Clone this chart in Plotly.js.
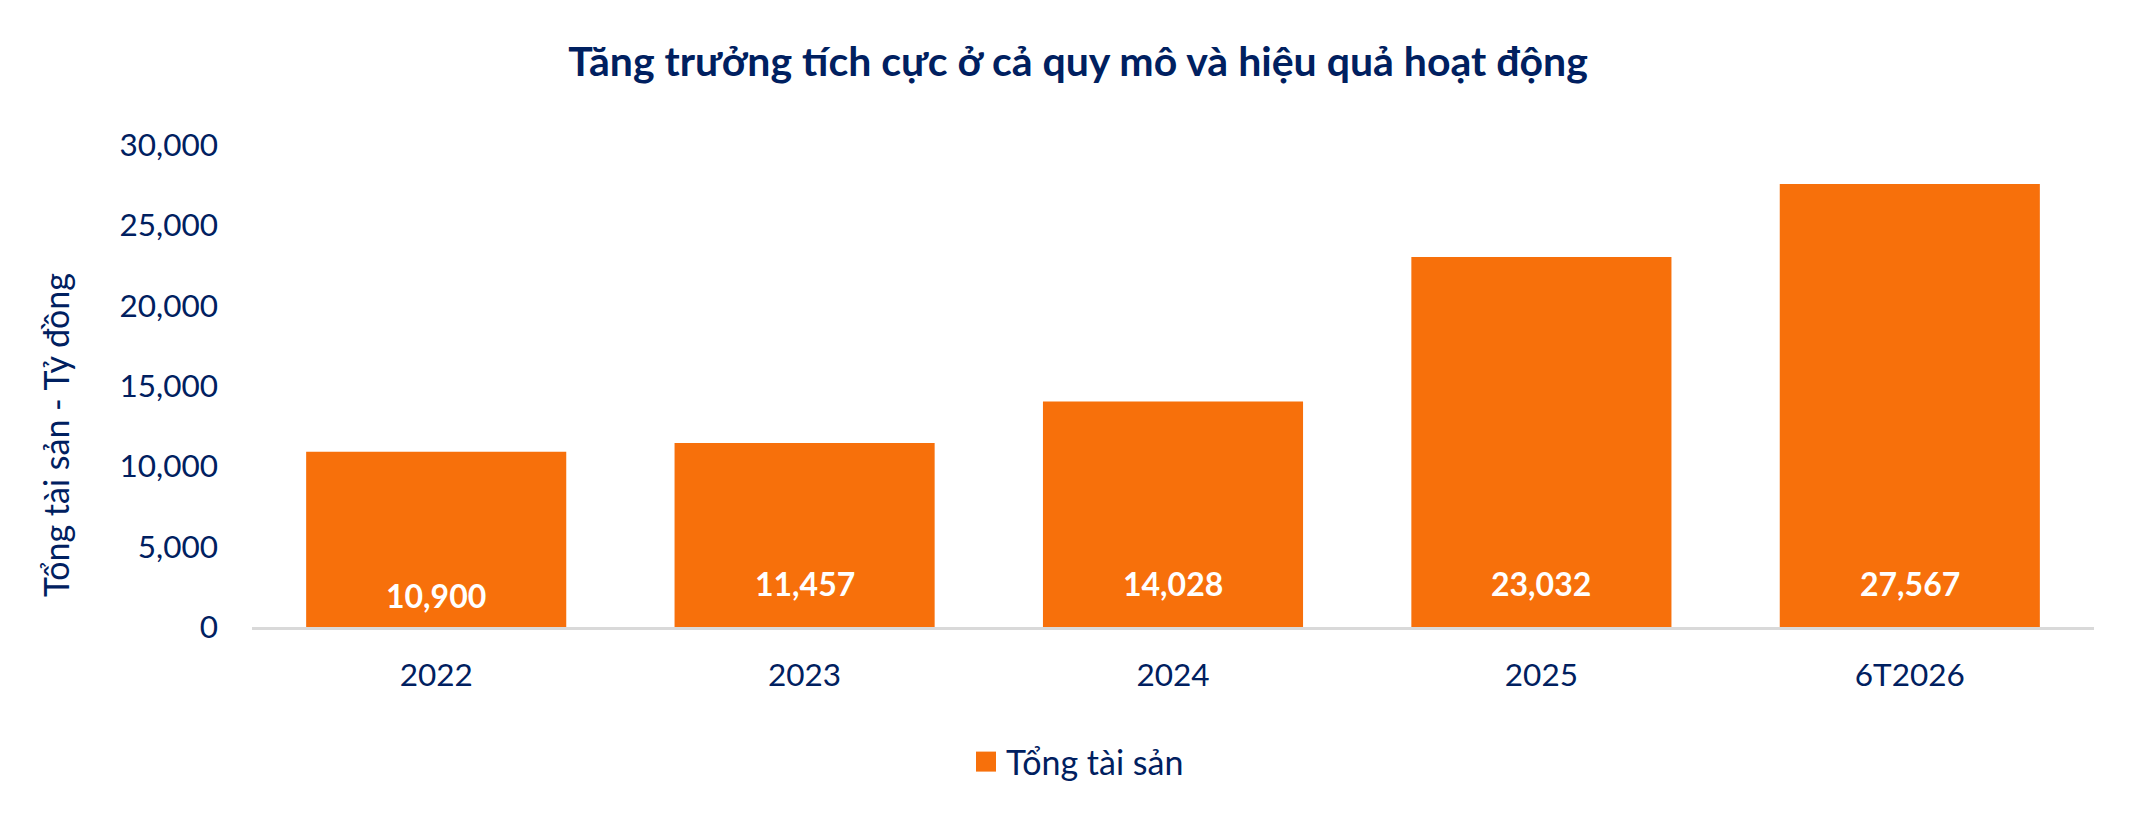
<!DOCTYPE html>
<html>
<head>
<meta charset="utf-8">
<script src="https://cdn.plot.ly/plotly-3.0.1.min.js"></script>
<style>
  html, body { margin: 0; padding: 0; background: #ffffff; }
  #chart { width: 2145px; height: 823px; }
</style>
</head>
<body>
<div id="chart"></div>
<script>
// ---- data ----
const categories = ['2022', '2023', '2024', '2025', '6T2026'];
const totalAssets = [10900, 11457, 14028, 23032, 27567];
const seriesName = 'Tổng tài sản';
const yTickValues = [0, 5000, 10000, 15000, 20000, 25000, 30000];
const chartTitle = 'Tăng trưởng tích cực ở cả quy mô và hiệu quả hoạt động';
const yAxisTitle = 'Tổng tài sản - Tỷ đồng';
// vertical lift of each value label above the base (px, styling)
const labelLift = [32, 44, 44, 44, 44];

const NAVY = '#002060';
const ORANGE = '#F7700B';
const FONT = 'Lato, "Open Sans", sans-serif';

const fmt = v => v.toLocaleString('en-US');

const trace = {
  type: 'bar',
  x: categories,
  y: totalAssets,
  name: seriesName,
  marker: { color: ORANGE, line: { width: 0 } },
  hoverinfo: 'skip',
  showlegend: true
};

// annotations on a category axis take the category index
const valueLabels = categories.map((c, i) => ({
  x: i, y: 0, xref: 'x', yref: 'y',
  text: '<b>' + fmt(totalAssets[i]) + '</b>',
  showarrow: false,
  yanchor: 'middle',
  yshift: labelLift[i],
  font: { family: FONT, size: 32, color: '#ffffff' }
}));

const layout = {
  width: 2145,
  height: 823,
  margin: { l: 252, r: 51, t: 145, b: 196, pad: 0 },
  paper_bgcolor: '#ffffff',
  plot_bgcolor: '#ffffff',
  font: { family: FONT, color: NAVY },
  title: {
    text: '<b>' + chartTitle + '</b>',
    xref: 'container', yref: 'container',
    x: 0.5026, xanchor: 'center',
    y: 1 - 62 / 823, yanchor: 'middle',
    font: { family: FONT, size: 41, color: NAVY }
  },
  bargap: 0.294,
  xaxis: {
    type: 'category',
    categoryorder: 'array',
    categoryarray: categories,
    range: [-0.5, categories.length - 0.5],
    showgrid: false,
    zeroline: false,
    showline: true,
    linecolor: '#d9d9d9',
    linewidth: 3,
    ticks: '',
    ticklabelstandoff: 18,
    tickfont: { family: FONT, size: 31.5, color: NAVY },
    fixedrange: true
  },
  yaxis: {
    range: [0, 30000],
    tickvals: yTickValues,
    tickformat: ',d',
    showgrid: false,
    zeroline: false,
    showline: false,
    ticks: '',
    ticklabelstandoff: 33,
    tickfont: { family: FONT, size: 31.5, color: NAVY },
    fixedrange: true
  },
  showlegend: true,
  legend: {
    orientation: 'h',
    xref: 'container', yref: 'container',
    x: 966 / 2145, xanchor: 'left',
    y: 1 - 762 / 823, yanchor: 'middle',
    font: { family: FONT, size: 34, color: NAVY },
    bgcolor: 'rgba(0,0,0,0)',
    borderwidth: 0
  },
  annotations: valueLabels.concat([{
    xref: 'paper', yref: 'paper',
    x: (55 - 252) / 1842, y: (627 - 435) / 482,
    xanchor: 'center', yanchor: 'middle',
    text: yAxisTitle,
    textangle: -90,
    showarrow: false,
    font: { family: FONT, size: 34, color: NAVY }
  }])
};

Plotly.newPlot('chart', [trace], layout, { displayModeBar: false, staticPlot: true }).then(() => {
  document.querySelectorAll('.legend .legendpoints path').forEach(p => {
    p.setAttribute('d', 'M10,10H-10V-10H10Z');
  });
});
</script>
</body>
</html>
